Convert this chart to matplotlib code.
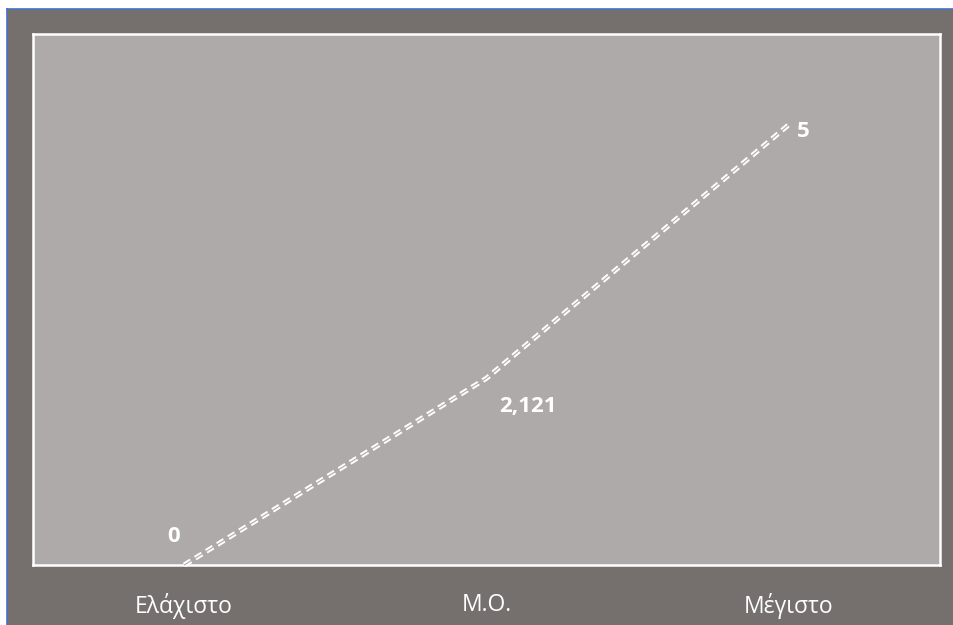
import matplotlib
matplotlib.use("Agg")
import matplotlib.pyplot as plt
from matplotlib.patches import Rectangle

categories = ["Ελάχιστο", "Μ.Ο.", "Μέγιστο"]
values = [0, 2.121, 5]
value_labels = ["0", "2,121", "5"]

W, H = 954, 625
outer_bg = "#75706e"
plot_bg = "#aeaaa9"

plt.rcParams['font.family'] = ['Open Sans', 'DejaVu Sans']

fig = plt.figure(figsize=(W / 100, H / 100), dpi=100)
fig.patch.set_facecolor("white")

# dark panel with blue left/top edge
fig.patches.append(Rectangle((7 / W, 0), 1, 1 - 9 / H, transform=fig.transFigure,
                             facecolor=outer_bg, edgecolor="none", zorder=-2))
fig.lines.append(plt.Line2D([7 / W, 7 / W], [0, 1 - 9 / H], transform=fig.transFigure,
                            color="#4472c4", linewidth=1.2, zorder=-1))
fig.lines.append(plt.Line2D([7 / W, 1], [1 - 9 / H, 1 - 9 / H], transform=fig.transFigure,
                            color="#4472c4", linewidth=1.2, zorder=-1))

ax = fig.add_axes([33 / W, (H - 565) / H, 907 / W, (565 - 34) / H])
ax.set_zorder(2)
ax.set_facecolor(plot_bg)
for s in ax.spines.values():
    s.set_color("white")
    s.set_linewidth(1.8)

x = list(range(len(categories)))
# compound dashed line: wide white dashes split by a thin background stripe
ax.plot(x, values, color="white", linewidth=3.6, linestyle=(0, (1.6, 1.0)),
        solid_capstyle="butt", dash_capstyle="butt", clip_on=False, zorder=3)
ax.plot(x, values, color=plot_bg, linewidth=0.8, solid_capstyle="butt",
        clip_on=False, zorder=4)

ax.set_xlim(-0.5, 2.5)
ax.set_ylim(0, 6.03)
ax.set_xticks(x)
ax.set_xticklabels(categories, color="white", fontsize=16.5)
ax.set_yticks([])
ax.tick_params(axis="x", length=0, pad=20)

offsets = [(-11, 28), (41, -28), (14, -7)]
for xi, v, lab, (dx, dy) in zip(x, values, value_labels, offsets):
    ax.annotate(lab, (xi, v), xytext=(dx, dy), textcoords="offset pixels",
                ha="center", va="center", color="white", fontsize=16,
                fontweight="bold", zorder=5)

fig.savefig("out.png", dpi=100, facecolor=fig.get_facecolor())
